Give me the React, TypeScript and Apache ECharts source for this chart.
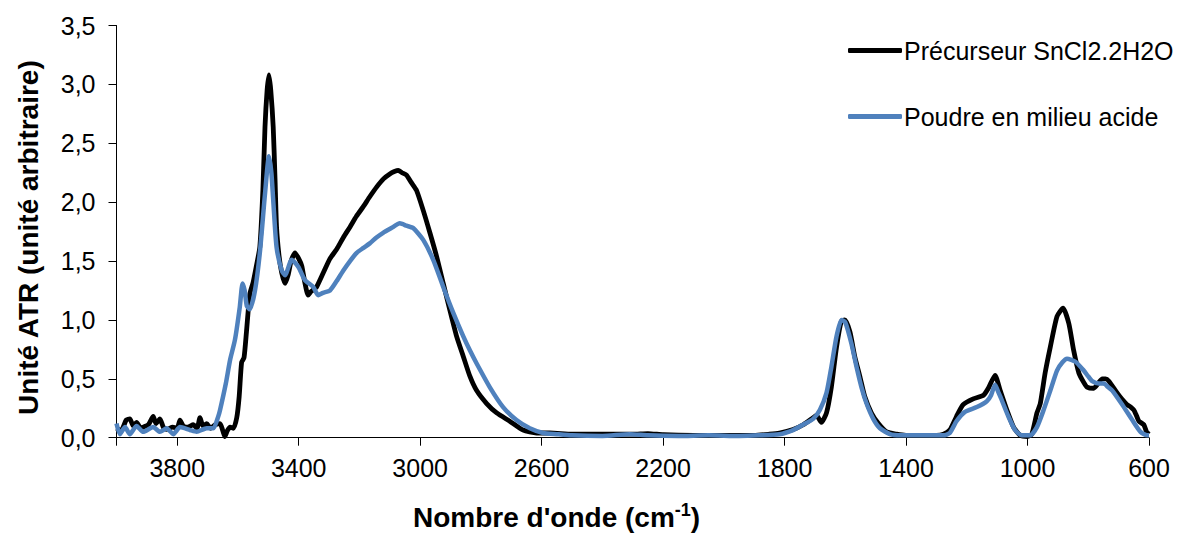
import React, { useEffect, useRef } from "react";
import * as echarts from "echarts";

const seriesNames = ["Précurseur SnCl2.2H2O", "Poudre en milieu acide"];
const seriesColors = ["#000000", "#4F81BD"];

const blackWavenumbers = [
  4000, 3985, 3968, 3956, 3945, 3934, 3920, 3912, 3895, 3879, 3870, 3857, 3846, 3835, 3815, 3800, 3791, 3780,
  3765, 3747, 3735, 3725, 3715, 3703, 3690, 3675, 3659, 3650, 3643, 3635, 3626, 3615, 3604, 3596, 3588, 3580,
  3572, 3561, 3550, 3540, 3528, 3518, 3511, 3504, 3498, 3492, 3484, 3478, 3473, 3465, 3456, 3445, 3435, 3425,
  3412, 3400, 3390, 3380, 3369, 3360, 3350, 3341, 3319, 3297, 3275, 3253, 3231, 3210, 3188, 3165, 3143, 3120,
  3100, 3085, 3072, 3060, 3045, 3030, 3012, 2990, 2968, 2946, 2924, 2902, 2880, 2858, 2836, 2814, 2781, 2748,
  2705, 2661, 2617, 2573, 2500, 2400, 2300, 2250, 2200, 2100, 2000, 1900, 1850, 1817, 1772, 1739, 1706, 1695,
  1679, 1662, 1646, 1629, 1613, 1602, 1585, 1569, 1552, 1536, 1514, 1491, 1464, 1431, 1400, 1300, 1277, 1256,
  1234, 1212, 1179, 1145, 1129, 1107, 1090, 1068, 1046, 1024, 1000, 986, 969, 958, 942, 925, 903, 883, 864,
  848, 831, 815, 804, 782, 765, 754, 743, 732, 705, 690, 672, 660, 650, 640, 633, 617, 608, 600,
];
const blackValues = [
  0.08, 0.06, 0.15, 0.16, 0.1, 0.13, 0.08, 0.09, 0.11, 0.18, 0.12, 0.16, 0.09, 0.07, 0.09, 0.08, 0.15, 0.1,
  0.09, 0.11, 0.08, 0.17, 0.1, 0.12, 0.08, 0.11, 0.12, 0.06, 0.01, 0.06, 0.09, 0.08, 0.17, 0.35, 0.64, 0.68,
  0.9, 1.22, 1.32, 1.45, 1.62, 2.1, 2.64, 2.95, 3.08, 2.95, 2.64, 2.2, 1.79, 1.55, 1.4, 1.31, 1.38, 1.5,
  1.57, 1.52, 1.46, 1.32, 1.21, 1.24, 1.26, 1.28, 1.4, 1.52, 1.6, 1.7, 1.79, 1.88, 1.96, 2.05, 2.13, 2.2,
  2.24, 2.26, 2.27, 2.25, 2.23, 2.17, 2.1, 1.93, 1.74, 1.54, 1.31, 1.08, 0.86, 0.69, 0.52, 0.4, 0.29, 0.21,
  0.14, 0.065, 0.04, 0.04, 0.03, 0.03, 0.03, 0.035, 0.025, 0.02, 0.02, 0.02, 0.03, 0.04, 0.07, 0.11, 0.17, 0.19,
  0.13, 0.21, 0.43, 0.77, 0.99, 1.0, 0.9, 0.69, 0.52, 0.35, 0.21, 0.12, 0.05, 0.03, 0.02, 0.02, 0.03, 0.065,
  0.18, 0.28, 0.33, 0.36, 0.42, 0.53, 0.4, 0.235, 0.09, 0.02, 0.01, 0.03, 0.21, 0.29, 0.55, 0.77, 1.03, 1.1, 0.97,
  0.74, 0.55, 0.47, 0.43, 0.42, 0.47, 0.5, 0.5, 0.48, 0.38, 0.33, 0.28, 0.26, 0.235, 0.18, 0.14, 0.11, 0.05, 0.03,
];

const blueWavenumbers = [
  4000, 3989, 3972, 3956, 3934, 3912, 3879, 3857, 3835, 3813, 3791, 3758, 3736, 3703, 3681, 3665, 3659, 3640,
  3626, 3610, 3594, 3585, 3578, 3571, 3561, 3544, 3528, 3511, 3498, 3490, 3484, 3473, 3456, 3445, 3423, 3401,
  3380, 3352, 3336, 3320, 3297, 3275, 3253, 3231, 3209, 3188, 3166, 3144, 3122, 3095, 3067, 3045, 3023, 2990,
  2957, 2924, 2891, 2858, 2836, 2814, 2771, 2727, 2683, 2639, 2595, 2551, 2500, 2400, 2310, 2250, 2150, 2050,
  1950, 1883, 1817, 1772, 1739, 1706, 1684, 1662, 1646, 1629, 1613, 1600, 1580, 1563, 1547, 1530, 1508, 1486,
  1453, 1420, 1277, 1256, 1234, 1206, 1167, 1134, 1120, 1107, 1095, 1085, 1063, 1041, 1019, 991, 969, 947,
  925, 903, 885, 870, 842, 815, 800, 787, 765, 749, 735, 721, 688, 655, 628, 606, 600,
];
const blueValues = [
  0.12, 0.03, 0.09, 0.03, 0.1, 0.05, 0.09, 0.05, 0.08, 0.03, 0.09, 0.065, 0.05, 0.08, 0.08, 0.18, 0.235, 0.46,
  0.66, 0.83, 1.11, 1.31, 1.25, 1.12, 1.09, 1.25, 1.57, 2.07, 2.39, 2.25, 2.02, 1.62, 1.42, 1.38, 1.51, 1.45,
  1.34, 1.28, 1.21, 1.23, 1.25, 1.33, 1.42, 1.5, 1.57, 1.61, 1.65, 1.7, 1.74, 1.78, 1.82, 1.8, 1.78, 1.68,
  1.51, 1.28, 1.06, 0.86, 0.74, 0.63, 0.43, 0.26, 0.15, 0.08, 0.04, 0.03, 0.02, 0.015, 0.03, 0.02, 0.015, 0.02,
  0.015, 0.02, 0.03, 0.065, 0.11, 0.16, 0.235, 0.38, 0.6, 0.86, 1.0, 0.98, 0.8, 0.6, 0.43, 0.29, 0.16, 0.08,
  0.03, 0.02, 0.02, 0.04, 0.14, 0.22, 0.26, 0.31, 0.36, 0.45, 0.38, 0.32, 0.18, 0.065, 0.02, 0.02, 0.09, 0.235,
  0.4, 0.57, 0.64, 0.67, 0.645, 0.57, 0.52, 0.48, 0.46, 0.46, 0.43, 0.4, 0.28, 0.15, 0.05, 0.02, 0.02,
];

const xMin = 600;
const xMax = 4000;
const xInterval = 400;
const yMin = 0;
const yMax = 3.5;
const yInterval = 0.5;

const yTitle = "Unité ATR (unité arbitraire)";
const xTitleMain = "Nombre d'onde (cm";
const xTitleSup = "-1";
const xTitleEnd = ")";

const FONT = 'Arial, "Liberation Sans", sans-serif';

function zip(xs: number[], ys: number[]) {
  return xs.map((x, i) => [x, ys[i]]);
}

export default function App() {
  const ref = useRef<HTMLDivElement>(null);
  useEffect(() => {
    document.body.style.margin = "0";
    const chart = echarts.init(ref.current!, undefined, { renderer: "svg" });
    chart.setOption({
      animation: false,
      backgroundColor: "#ffffff",
      textStyle: { fontFamily: FONT },
      grid: { left: 116.5, right: 43, top: 25.5, bottom: 95.3, containLabel: false },
      legend: {
        orient: "vertical",
        left: 843,
        top: 31,
        icon: "roundRect",
        itemWidth: 54,
        itemHeight: 5,
        itemGap: 37,
        textStyle: { fontSize: 25, color: "#000", fontFamily: FONT, lineHeight: 29, padding: [0, 0, 0, -3] },
        data: seriesNames,
      },
      xAxis: {
        type: "value",
        inverse: true,
        min: xMin,
        max: xMax,
        interval: xInterval,
        axisLine: { show: true, lineStyle: { color: "#000", width: 1 } },
        axisTick: { show: true, length: 8, lineStyle: { color: "#000" } },
        axisLabel: {
          margin: 18,
          fontSize: 25,
          color: "#000",
          fontFamily: FONT,
          formatter: (v: number) => (v === xMax ? "" : String(v)),
        },
        splitLine: { show: false },
      },
      yAxis: {
        type: "value",
        min: yMin,
        max: yMax,
        interval: yInterval,
        name: yTitle,
        nameLocation: "middle",
        nameGap: 74,
        nameTextStyle: { fontSize: 28, fontWeight: "bold", color: "#000", fontFamily: FONT, padding: [0, 12, 0, 0] },
        axisLine: { show: true, lineStyle: { color: "#000", width: 1 } },
        axisTick: { show: true, length: 8, lineStyle: { color: "#000" } },
        axisLabel: {
          margin: 21,
          fontSize: 25,
          color: "#000",
          fontFamily: FONT,
          formatter: (v: number) => v.toFixed(1).replace(".", ","),
        },
        splitLine: { show: false },
      },
      graphic: [
        {
          type: "text",
          left: 413,
          top: 501,
          style: {
            text: `{a|${xTitleMain}}{s|${xTitleSup}}{a|${xTitleEnd}}`,
            rich: {
              a: { fontSize: 28, fontWeight: "bold", fontFamily: FONT, fill: "#000", lineHeight: 33 },
              s: { fontSize: 18, fontWeight: "bold", fontFamily: FONT, fill: "#000", verticalAlign: "top", lineHeight: 21 },
            },
          },
        },
      ],
      series: [
        {
          name: seriesNames[0],
          type: "line",
          data: zip(blackWavenumbers, blackValues),
          showSymbol: false,
          symbol: "none",
          smooth: 0.2,
          lineStyle: { color: seriesColors[0], width: 4.8 },
          itemStyle: { color: seriesColors[0] },
        },
        {
          name: seriesNames[1],
          type: "line",
          data: zip(blueWavenumbers, blueValues),
          showSymbol: false,
          symbol: "none",
          smooth: 0.2,
          lineStyle: { color: seriesColors[1], width: 4.5 },
          itemStyle: { color: seriesColors[1] },
        },
      ],
    });
    return () => chart.dispose();
  }, []);
  return <div ref={ref} style={{ position: "fixed", left: 0, top: 0, width: 1192, height: 533 }} />;
}
